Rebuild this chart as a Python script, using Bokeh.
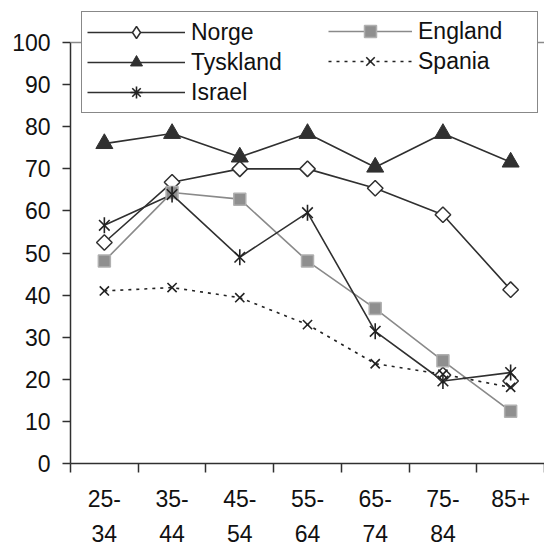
import math

from bokeh.plotting import figure
from bokeh.models import (FixedTicker, Span, Legend, LegendItem, Range1d,
                          LinearAxis)
from bokeh.embed import file_html
from bokeh.resources import INLINE

# Age groups and their two-line tick labels
age_groups = ["25-34", "35-44", "45-54", "55-64", "65-74", "75-84", "85+"]
age_labels_top = ["25-", "35-", "45-", "55-", "65-", "75-", "85+"]
age_labels_bottom = ["34", "44", "54", "64", "74", "84", ""]

# Series values (percent)
norge = [52.5, 66.8, 70.0, 70.0, 65.4, 59.1, 41.3]
england = [48.1, 64.4, 62.8, 48.1, 36.8, 24.4, 12.4]
tyskland = [76.0, 78.4, 72.8, 78.4, 70.4, 78.4, 71.6]
spania = [41.0, 41.8, 39.4, 33.0, 23.7, 21.2, 18.1]
israel = [56.6, 63.9, 49.0, 59.6, 31.4, 19.6, 21.6]

# Additional diamond markers in the oldest groups
extra_groups = ["75-84", "85+"]
extra_vals = [21.0, 19.6]

y_ticks = list(range(0, 101, 10))

FONT = "Liberation Sans"
DARK = "#303030"
GREY = "#8a8a8a"
TEXT = "#111111"
DIAMOND = dict(marker="square", angle=math.pi / 4, size=11,
               fill_color="white", line_color=DARK, line_width=1.5)

# Category centres on a numeric axis: index + 0.5
xs = [i + 0.5 for i in range(len(age_groups))]
extra_xs = [age_groups.index(g) + 0.5 for g in extra_groups]

# the frame reaches the top edge so the legend above 100 is not clipped
p = figure(
    width=544, height=545,
    x_range=Range1d(0, len(age_groups)), y_range=Range1d(0, 110),
    output_backend="svg", toolbar_location=None,
    min_border_left=70, min_border_right=0, min_border_top=0, min_border_bottom=82,
)
p.grid.visible = False
p.outline_line_color = None
p.background_fill_color = "white"
p.border_fill_color = "white"

# x axis: boundary ticks via minor ticks, first label line at the centres
xax = p.xaxis[0]
xax.ticker = FixedTicker(ticks=xs, minor_ticks=list(range(len(age_groups) + 1)))
xax.major_label_overrides = {x: t for x, t in zip(xs, age_labels_top)}
xax.major_tick_out = 0
xax.major_tick_in = 0
xax.minor_tick_out = 9
xax.minor_tick_in = 0
xax.minor_tick_line_color = DARK
xax.minor_tick_line_width = 1.5
xax.axis_line_color = DARK
xax.axis_line_width = 1.5
xax.major_label_text_font = FONT
xax.major_label_text_font_size = "23px"
xax.major_label_text_color = TEXT
xax.major_label_standoff = 17

# second label line, an unadorned axis stacked below the first
xax2 = LinearAxis(ticker=FixedTicker(ticks=xs, minor_ticks=[]))
xax2.major_label_overrides = {x: t for x, t in zip(xs, age_labels_bottom)}
xax2.axis_line_color = None
xax2.major_tick_line_color = None
xax2.major_tick_out = 0
xax2.major_tick_in = 0
xax2.minor_tick_line_color = None
xax2.major_label_text_font = FONT
xax2.major_label_text_font_size = "23px"
xax2.major_label_text_color = TEXT
xax2.major_label_standoff = 15
p.add_layout(xax2, "below")

yax = p.yaxis[0]
yax.ticker = FixedTicker(ticks=y_ticks, minor_ticks=[])
yax.bounds = (0, 100)
yax.major_tick_out = 8
yax.major_tick_in = 0
yax.major_tick_line_color = DARK
yax.major_tick_line_width = 1.5
yax.axis_line_color = DARK
yax.axis_line_width = 1.5
yax.major_label_text_font = FONT
yax.major_label_text_font_size = "23px"
yax.major_label_text_color = TEXT
yax.major_label_standoff = 12

# top border of the plotting area at 100
p.add_layout(Span(location=100, dimension="width", line_color=GREY, line_width=1.5))

lw = 1.6
r_no_l = p.line(xs, norge, line_color=DARK, line_width=lw)
r_en_l = p.line(xs, england, line_color=GREY, line_width=lw)
r_ty_l = p.line(xs, tyskland, line_color=DARK, line_width=lw)
r_sp_l = p.line(xs, spania, line_color="#222222", line_width=lw, line_dash="3 5")
r_is_l = p.line(xs, israel, line_color=DARK, line_width=lw)

# legend keys (legend swatches ignore marker angles): the Norge key sits
# hidden under the rotated squares, the Israel key has zero size on the chart
key_no = p.scatter(xs, norge, marker="diamond", size=14, fill_color="white",
                   line_color=DARK, line_width=1.5)
key_is = p.scatter(xs, israel, marker="asterisk", size=0,
                   line_color="#222222", line_width=1.6)

r_ex_m = p.scatter(extra_xs, extra_vals, **DIAMOND)
r_no_m = p.scatter(xs, norge, **DIAMOND)
r_en_m = p.scatter(xs, england, marker="square", size=12,
                   fill_color="#8f8f8f", line_color="#b0b0b0", line_width=1.5)
r_ty_m = p.scatter(xs, tyskland, marker="triangle", size=17,
                   fill_color=DARK, line_color=DARK, line_width=1)
r_sp_m = p.scatter(xs, spania, marker="x", size=13,
                   line_color="#222222", line_width=1.6)
# star marker: a cross of diagonals plus a vertical stroke
r_is_x = p.scatter(xs, israel, marker="x", size=15,
                   line_color="#222222", line_width=1.6)
r_is_v = p.scatter(xs, israel, marker="dash", angle=math.pi / 2, size=16,
                   line_color="#222222", line_width=1.6)

legend_style = dict(
    orientation="vertical",
    glyph_height=30, label_height=26, label_standoff=6, spacing=0,
    padding=5, margin=0,
    label_text_font=FONT, label_text_font_size="23px", label_text_color=TEXT,
)

# left column, carries the frame of the whole legend box
legend_left = Legend(
    items=[
        LegendItem(label="Norge", renderers=[r_no_l, key_no]),
        LegendItem(label="Tyskland", renderers=[r_ty_l, r_ty_m]),
        LegendItem(label="Israel", renderers=[r_is_l, key_is]),
    ],
    location=(11, 350), glyph_width=98, label_width=341,
    border_line_color=TEXT, border_line_width=1.2,
    background_fill_color="white", background_fill_alpha=1.0,
    **legend_style,
)
# right column, drawn inside the same box
legend_right = Legend(
    items=[
        LegendItem(label="England", renderers=[r_en_l, r_en_m]),
        LegendItem(label="Spania", renderers=[r_sp_l, r_sp_m]),
    ],
    location=(258, 387), glyph_width=84, label_width=20,
    border_line_color=None, background_fill_alpha=0.0,
    **legend_style,
)
p.add_layout(legend_left, "center")
p.add_layout(legend_right, "center")

open("out.html", "w").write(file_html(p, INLINE))
